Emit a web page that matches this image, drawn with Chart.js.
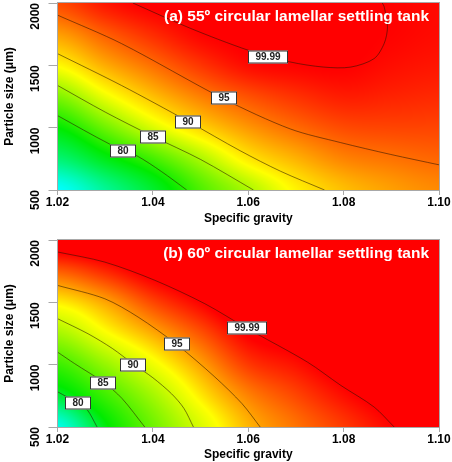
<!DOCTYPE html>
<html>
<head>
<meta charset="utf-8">
<script src="https://cdn.jsdelivr.net/npm/chart.js@4.4.0/dist/chart.umd.min.js"></script>
<style>
  html, body { margin: 0; padding: 0; background: #fff; }
  #wrap { position: relative; width: 452px; height: 462px; overflow: hidden; }
  .panel { position: absolute; left: 0; width: 452px; }
  #top { top: 0; height: 228px; }
  #bottom { top: 237px; height: 225px; }
</style>
</head>
<body>
<div id="wrap">
  <div class="panel" id="top"><canvas id="chart55"></canvas></div>
  <div class="panel" id="bottom"><canvas id="chart60"></canvas></div>
</div>
<script>
// Axis ticks
var gravityTicks = [1.02, 1.04, 1.06, 1.08, 1.10];
var sizeTicks = [500, 1000, 1500, 2000];

// Grid the colour field is read on
var gridGravity = [1.02, 1.03, 1.04, 1.05, 1.06, 1.07, 1.08, 1.09, 1.10];
var gridSize = [500, 750, 1000, 1250, 1500, 1750, 2000];

// Removal efficiency (%), one row per particle size
var eff55 = [
  [67.0, 71.5, 76.0, 81.0, 84.7, 88.5, 91.0, 92.5, 93.5],
  [73.0, 77.0, 80.6, 84.7, 89.0, 91.6, 93.8, 94.6, 95.2],
  [78.0, 82.3, 86.5, 90.0, 92.9, 95.0, 96.5, 96.8, 96.8],
  [83.0, 87.3, 91.0, 94.0, 96.2, 97.7, 98.7, 98.4, 98.1],
  [88.2, 91.9, 94.8, 97.5, 99.5, 99.95, 100.05, 99.4, 99.0],
  [92.6, 95.6, 98.0, 99.9, 100.4, 100.4, 100.3, 99.9, 99.5],
  [96.5, 99.0, 100.3, 100.3, 100.6, 100.5, 100.3, 99.9, 99.6]
];
var eff60 = [
  [75.5, 80.6, 85.7, 90.4, 94.3, 96.4, 98.2, 99.9, 101.0],
  [79.7, 83.6, 88.0, 92.6, 95.9, 97.8, 99.6, 101.0, 102.0],
  [83.5, 87.4, 91.3, 94.9, 98.2, 99.5, 101.0, 102.0, 103.0],
  [88.1, 91.7, 94.6, 97.4, 100.2, 101.0, 102.0, 103.0, 103.5],
  [92.5, 94.8, 97.8, 100.0, 102.0, 102.0, 103.0, 103.5, 104.0],
  [97.1, 98.8, 100.8, 102.0, 103.0, 103.0, 103.5, 104.0, 104.0],
  [101.5, 102.0, 103.0, 104.0, 104.0, 104.0, 104.0, 104.0, 104.0]
];

// Contour lines [specific gravity, particle size]
var c55_80 = [[1.02, 1097], [1.0309, 869], [1.0366, 775], [1.0418, 648], [1.0471, 500]];
var c55_85 = [[1.02, 1339], [1.030, 1125], [1.040, 930], [1.050, 745], [1.0611, 500]];
var c55_90 = [[1.02, 1594], [1.0334, 1339], [1.0474, 1050], [1.0583, 815], [1.0668, 650], [1.0760, 500]];
var c55_95 = [[1.02, 1903], [1.0334, 1675], [1.0549, 1230], [1.0688, 990], [1.0794, 880], [1.0899, 785], [1.10, 702]];
var c55_9999 = [[1.0358, 2000], [1.0478, 1798], [1.06, 1621], [1.0688, 1527], [1.0758, 1486], [1.0815, 1486],
  [1.0864, 1554], [1.0885, 1675], [1.0892, 1809], [1.0885, 1970], [1.0881, 2000]];

var c60_80 = [[1.02, 783], [1.0243, 691], [1.0262, 640], [1.0283, 500]];
var c60_85 = [[1.02, 1101], [1.0236, 1008], [1.0296, 860], [1.0335, 730], [1.0383, 500]];
var c60_90 = [[1.02, 1369], [1.0264, 1248], [1.0315, 1130], [1.0359, 1005], [1.040, 895], [1.0439, 767], [1.0465, 650], [1.0485, 500]];
var c60_95 = [[1.02, 1636], [1.0299, 1529], [1.0369, 1382], [1.045, 1162], [1.053, 901], [1.0587, 687], [1.0625, 500]];
var c60_9999 = [[1.02, 1904], [1.0299, 1823], [1.0404, 1677], [1.0509, 1489], [1.0597, 1292], [1.0724, 1021],
  [1.0794, 834], [1.0864, 660], [1.0906, 500]];

// Contour label names and where they sit
var levelNames = ['80', '85', '90', '95', '99.99'];
var labelAt55 = [[1.0337, 815], [1.040, 925], [1.0474, 1045], [1.0549, 1234], [1.0642, 1566]];
var labelAt60 = [[1.0243, 691], [1.0296, 850], [1.0359, 1001], [1.0450, 1162], [1.0597, 1292]];

// Colour ramps (value -> rgb), style only
var ramp55 = [[67, [0, 255, 255]], [78, [0, 235, 0]], [88, [255, 255, 0]], [100, [255, 0, 0]]];
var ramp60 = [[75, [0, 255, 255]], [81, [0, 235, 0]], [92, [255, 255, 0]], [100, [255, 0, 0]]];

var fontFamily = "'Liberation Sans', Arial, sans-serif";
var axisFont = { family: fontFamily, size: 12, weight: 'bold' };

function findCell(arr, v) {
  for (var i = 0; i < arr.length - 2; i++) {
    if (v < arr[i + 1]) return i;
  }
  return arr.length - 2;
}

function clampIdx(k, n) { return Math.max(0, Math.min(n - 1, k)); }

// Catmull-Rom between p1 and p2
function cr(p0, p1, p2, p3, t) {
  return 0.5 * (2 * p1 + (p2 - p0) * t + (2 * p0 - 5 * p1 + 4 * p2 - p3) * t * t + (3 * p1 - p0 - 3 * p2 + p3) * t * t * t);
}

// smooth lookup in the read-off grid
function sampleGrid(values, g, s) {
  var nx = gridGravity.length, ny = gridSize.length;
  var i = findCell(gridGravity, g), j = findCell(gridSize, s);
  var tx = Math.max(0, Math.min(1, (g - gridGravity[i]) / (gridGravity[i + 1] - gridGravity[i])));
  var ty = Math.max(0, Math.min(1, (s - gridSize[j]) / (gridSize[j + 1] - gridSize[j])));
  var rows = [];
  for (var r = -1; r <= 2; r++) {
    var row = values[clampIdx(j + r, ny)];
    rows.push(cr(row[clampIdx(i - 1, nx)], row[i], row[i + 1], row[clampIdx(i + 2, nx)], tx));
  }
  return cr(rows[0], rows[1], rows[2], rows[3], ty);
}

function colourFor(v, ramp) {
  if (v <= ramp[0][0]) return ramp[0][1];
  for (var k = 0; k < ramp.length - 1; k++) {
    var lo = ramp[k], hi = ramp[k + 1];
    if (v <= hi[0]) {
      var t = (v - lo[0]) / (hi[0] - lo[0]);
      return [0, 1, 2].map(function (c) { return lo[1][c] + (hi[1][c] - lo[1][c]) * t; });
    }
  }
  return ramp[ramp.length - 1][1];
}

function makeHeatPlugin(values, ramp) {
  return {
    id: 'heatField',
    beforeDatasetsDraw: function (chart) {
      var area = chart.chartArea;
      var xs = chart.scales.x, ys = chart.scales.y;
      var left = Math.round(area.left), top = Math.round(area.top);
      var w = Math.round(area.right) - left, h = Math.round(area.bottom) - top;
      var off = document.createElement('canvas');
      off.width = w;
      off.height = h;
      var octx = off.getContext('2d');
      var img = octx.createImageData(w, h);
      for (var j = 0; j < h; j++) {
        var size = ys.getValueForPixel(top + j + 0.5);
        for (var i = 0; i < w; i++) {
          var grav = xs.getValueForPixel(left + i + 0.5);
          var c = colourFor(sampleGrid(values, grav, size), ramp);
          var k = (j * w + i) * 4;
          img.data[k] = c[0];
          img.data[k + 1] = c[1];
          img.data[k + 2] = c[2];
          img.data[k + 3] = 255;
        }
      }
      octx.putImageData(img, 0, 0);
      chart.ctx.drawImage(off, left, top);
    }
  };
}

function makeDecorPlugin(labelAt, title) {
  return {
    id: 'panelDecor',
    afterDatasetsDraw: function (chart) {
      var ctx = chart.ctx, area = chart.chartArea;
      var xs = chart.scales.x, ys = chart.scales.y;
      ctx.save();
      // plot frame
      ctx.strokeStyle = '#a8a8a8';
      ctx.lineWidth = 1;
      ctx.strokeRect(Math.round(area.left) - 0.5, Math.round(area.top) - 0.5,
        Math.round(area.right) - Math.round(area.left) + 1, Math.round(area.bottom) - Math.round(area.top) + 1);

      // contour level labels
      ctx.font = 'bold 10px ' + fontFamily;
      ctx.textAlign = 'center';
      ctx.textBaseline = 'middle';
      labelAt.forEach(function (p, n) {
        var px = Math.round(xs.getPixelForValue(p[0]));
        var py = Math.round(ys.getPixelForValue(p[1]));
        var bw = Math.round(ctx.measureText(levelNames[n]).width) + 15;
        var bh = 13;
        ctx.fillStyle = '#fff';
        ctx.fillRect(px - bw / 2, py - bh / 2, bw, bh);
        ctx.strokeStyle = '#333';
        ctx.strokeRect(px - bw / 2 + 0.5, py - bh / 2 + 0.5, bw - 1, bh - 1);
        ctx.fillStyle = '#222';
        ctx.fillText(levelNames[n], px, py + 0.5);
      });

      // panel title inside the plot
      ctx.font = 'bold 15.5px ' + fontFamily;
      ctx.fillStyle = '#fff';
      ctx.textAlign = 'right';
      ctx.fillText(title, area.right - 10, area.top + 14);
      ctx.restore();
    }
  };
}

function contourSet(points) {
  return {
    data: points.map(function (p) { return { x: p[0], y: p[1] }; }),
    showLine: true,
    borderColor: 'rgba(40,20,0,0.55)',
    borderWidth: 1,
    pointRadius: 0,
    tension: 0.3,
    fill: false
  };
}

function makePanel(canvasId, cfg) {
  var ctx = document.getElementById(canvasId).getContext('2d');
  return new Chart(ctx, {
    type: 'scatter',
    data: { datasets: cfg.contours.map(contourSet) },
    options: {
      responsive: true,
      maintainAspectRatio: false,
      animation: false,
      events: [],
      layout: { padding: { left: 0, top: 3, right: 13, bottom: 0 } },
      plugins: { legend: { display: false }, tooltip: { enabled: false } },
      scales: {
        x: {
          type: 'linear',
          min: 1.02,
          max: 1.10,
          afterBuildTicks: function (s) { s.ticks = gravityTicks.map(function (v) { return { value: v }; }); },
          afterFit: function (s) { s.height = cfg.xAxisHeight; s.paddingLeft = 0; s.paddingRight = 0; },
          ticks: {
            padding: 0, color: '#000', font: axisFont, maxRotation: 0, autoSkip: false,
            callback: function (v) { return Number(v).toFixed(2); }
          },
          grid: { drawOnChartArea: false, tickLength: 5, color: '#a8a8a8' },
          border: { color: '#a8a8a8' },
          title: {
            display: true, text: 'Specific gravity', color: '#000', font: axisFont,
            padding: { top: 0, bottom: cfg.xTitlePad }
          }
        },
        y: {
          type: 'linear',
          min: 500,
          max: 2000,
          afterBuildTicks: function (s) { s.ticks = sizeTicks.map(function (v) { return { value: v }; }); },
          afterFit: function (s) { s.width = 57.5; s.paddingTop = 0; s.paddingBottom = 0; },
          ticks: {
            padding: 12.5, color: '#000', font: axisFont, minRotation: 90, maxRotation: 90, autoSkip: false,
            callback: function (v) { return String(v); }
          },
          grid: { drawOnChartArea: false, tickLength: 9, color: '#a8a8a8' },
          border: { color: '#a8a8a8' },
          title: {
            display: true, text: 'Particle size (\u03bcm)', color: '#000', font: axisFont,
            padding: { top: 2.8, bottom: 0 }
          }
        }
      }
    },
    plugins: [makeHeatPlugin(cfg.values, cfg.ramp), makeDecorPlugin(cfg.labelAt, cfg.title)]
  });
}

makePanel('chart55', {
  contours: [c55_80, c55_85, c55_90, c55_95, c55_9999],
  values: eff55,
  ramp: ramp55,
  labelAt: labelAt55,
  title: '(a) 55\u00ba circular lamellar settling tank',
  xAxisHeight: 38,
  xTitlePad: 1.8
});

makePanel('chart60', {
  contours: [c60_80, c60_85, c60_90, c60_95, c60_9999],
  values: eff60,
  ramp: ramp60,
  labelAt: labelAt60,
  title: '(b) 60\u00ba circular lamellar settling tank',
  xAxisHeight: 35,
  xTitlePad: 0
});
</script>
</body>
</html>
